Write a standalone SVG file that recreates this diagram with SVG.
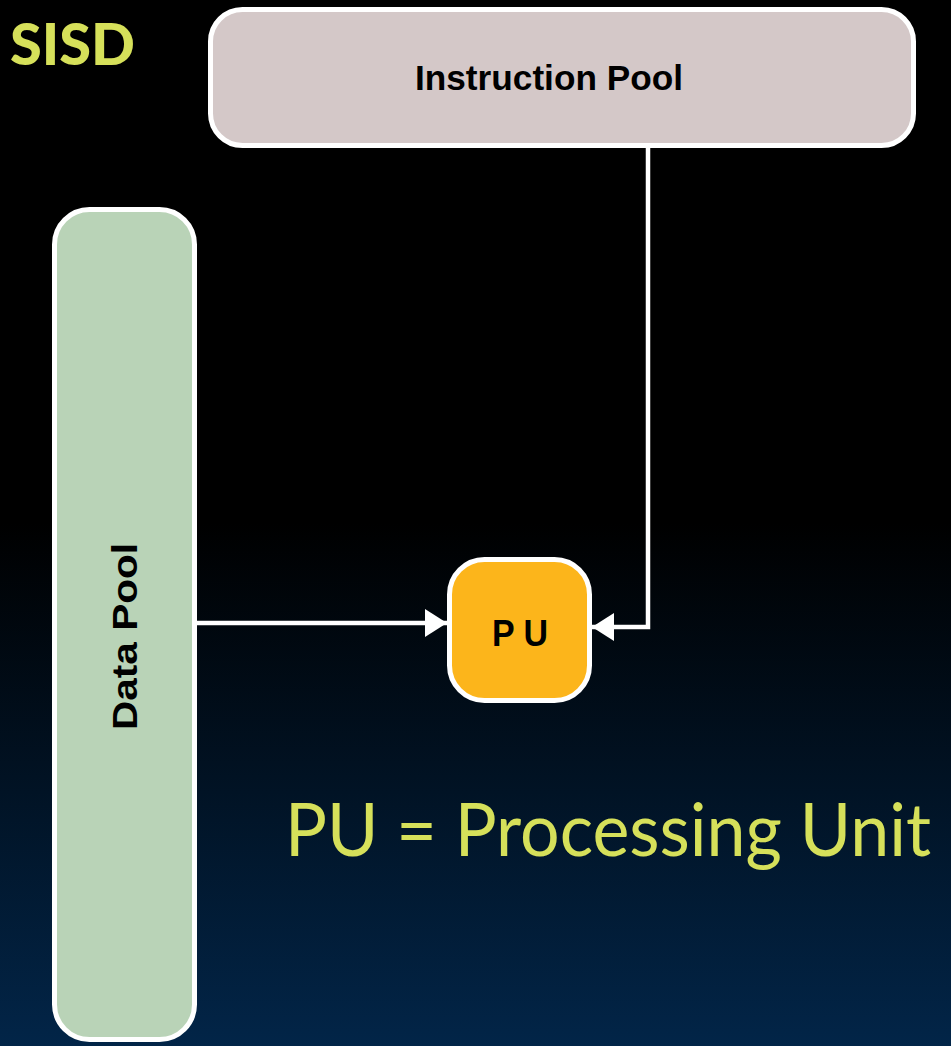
<svg xmlns="http://www.w3.org/2000/svg" width="951" height="1046" viewBox="0 0 951 1046">
<defs>
<linearGradient id="bg" x1="0" y1="0" x2="0" y2="1">
<stop offset="0" stop-color="#000000"/>
<stop offset="0.5" stop-color="#000000"/>
<stop offset="1" stop-color="#022548"/>
</linearGradient>
<marker id="arr" markerWidth="22" markerHeight="28" refX="22" refY="14" orient="auto" markerUnits="userSpaceOnUse">
<path d="M0,0 L22,14 L0,28 Z" fill="#ffffff"/>
</marker>
<style>
.box{stroke:#ffffff;stroke-width:5}
.lbl{font-family:"Liberation Sans",Arial,sans-serif;font-weight:bold;fill:#000000}
.conn{stroke:#ffffff;stroke-width:4.5;fill:none}
.title{font-family:"Lato","Liberation Sans",sans-serif;fill:#d6e05a}
</style>
</defs>
<rect x="0" y="0" width="951" height="1046" fill="url(#bg)"/>
<text class="title" x="10" y="65" font-size="58" font-weight="900" textLength="125" lengthAdjust="spacingAndGlyphs">SISD</text>
<g id="connectors">
<path class="conn" d="M197,623 L447,623" marker-end="url(#arr)"/>
<path class="conn" d="M648,146 L648,627 L592,627" marker-end="url(#arr)"/>
</g>
<g id="instruction-pool">
<rect class="box" x="210.5" y="9.5" width="703" height="136" rx="32" fill="#d4c8c8"/>
<text class="lbl" x="415" y="90" font-size="35" textLength="268" lengthAdjust="spacingAndGlyphs">Instruction Pool</text>
</g>
<g id="data-pool">
<rect class="box" x="54.5" y="209.5" width="140" height="830" rx="35" fill="#b9d3b7"/>
<text class="lbl" transform="translate(137,730) rotate(-90)" x="0" y="0" font-size="35" textLength="187" lengthAdjust="spacingAndGlyphs">Data Pool</text>
</g>
<g id="pu">
<rect class="box" x="449.5" y="559.5" width="140" height="141" rx="35" fill="#fcb51b"/>
<text class="lbl" x="492" y="646" font-size="36" textLength="56" lengthAdjust="spacingAndGlyphs">P U</text>
</g>
<text class="title" x="285" y="856" font-size="74" textLength="646" lengthAdjust="spacingAndGlyphs">PU = Processing Unit</text>
</svg>
